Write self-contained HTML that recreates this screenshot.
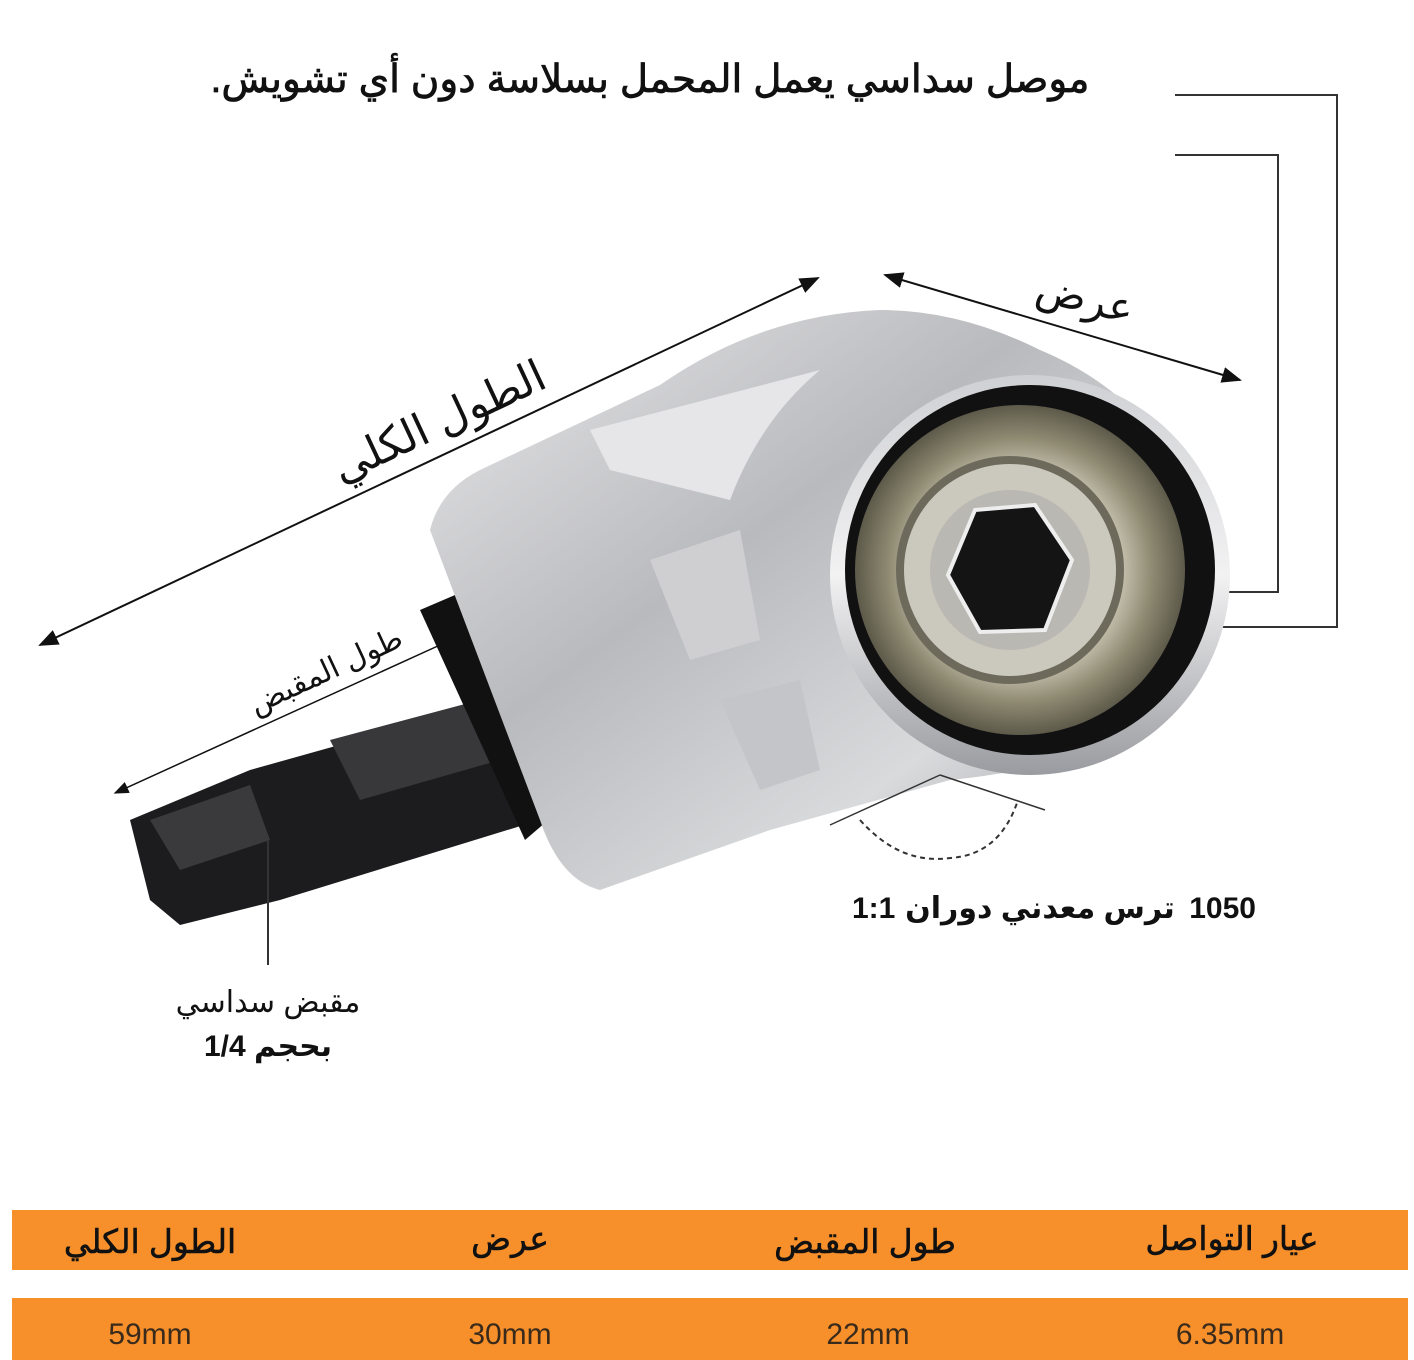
<!DOCTYPE html>
<html><head><meta charset="utf-8"><style>
body{margin:0;background:#fff;width:1414px;height:1360px;overflow:hidden}
svg{display:block}
text{font-family:"Liberation Sans","DejaVu Sans",sans-serif}
</style></head><body>
<svg width="1414" height="1360" viewBox="0 0 1414 1360" xmlns="http://www.w3.org/2000/svg">
<defs>
<linearGradient id="silver" x1="0" y1="0" x2="1" y2="1">
<stop offset="0" stop-color="#e8e8ea"/><stop offset="0.4" stop-color="#b9babd"/><stop offset="0.7" stop-color="#d9dadc"/><stop offset="1" stop-color="#8f9095"/></linearGradient>
<linearGradient id="silver2" x1="0" y1="0" x2="0" y2="1">
<stop offset="0" stop-color="#cfd0d3"/><stop offset="0.5" stop-color="#f2f2f3"/><stop offset="1" stop-color="#9a9ba0"/></linearGradient>
<radialGradient id="bear" cx="0.5" cy="0.5" r="0.5">
<stop offset="0.55" stop-color="#d7d3c2"/><stop offset="0.8" stop-color="#8f8a72"/><stop offset="1" stop-color="#5d5a4a"/></radialGradient>
<marker id="ar" viewBox="0 0 10 10" refX="9" refY="5" markerWidth="10" markerHeight="10" orient="auto-start-reverse"><path d="M0,1 L10,5 L0,9 z" fill="#111"/></marker>
</defs>
<text x="650" y="92" font-size="39" text-anchor="middle" fill="#111" direction="rtl" font-family="DejaVu Sans" stroke="#111" stroke-width="0.8">موصل سداسي يعمل المحمل بسلاسة دون أي تشويش.</text>
<polyline points="1175,95 1337,95 1337,627 1030,627" fill="none" stroke="#333" stroke-width="2"/>
<polyline points="1175,155 1278,155 1278,592 1135,592" fill="none" stroke="#333" stroke-width="2"/>
<polygon points="130,820 250,770 500,700 540,820 280,900 180,925 150,900" fill="#1c1c1e"/>
<polygon points="150,820 250,785 270,840 180,870" fill="#3a3a3d"/>
<polygon points="330,740 480,700 500,760 360,800" fill="#38383b"/>
<polygon points="420,610 455,595 560,810 525,840" fill="#111"/>
<path d="M430,530 Q440,490 480,470 L660,385 Q760,315 880,310 Q960,310 1040,350 Q1160,400 1200,520 L1210,640 Q1160,760 950,780 L770,830 L600,890 Q560,880 540,820 Z" fill="url(#silver)"/>
<path d="M590,430 L820,370 Q760,420 730,500 L610,470 Z" fill="#e6e6e8"/>
<path d="M650,560 L740,530 L760,640 L690,660 Z" fill="#cfcfd2"/>
<path d="M720,700 L800,680 L820,770 L760,790 Z" fill="#c4c5c8"/>
<circle cx="1030" cy="575" r="200" fill="url(#silver2)"/>
<circle cx="1030" cy="570" r="185" fill="#111"/>
<circle cx="1020" cy="570" r="165" fill="url(#bear)"/>
<circle cx="1010" cy="570" r="110" fill="#cbc8bd" stroke="#6d6a5c" stroke-width="8"/>
<circle cx="1010" cy="570" r="80" fill="#b9b8b3"/>
<polygon points="975,510 1035,505 1072,560 1045,630 980,632 948,575" fill="#141414" stroke="#eee" stroke-width="4"/>
<line x1="40" y1="645" x2="818" y2="278" stroke="#111" stroke-width="2" marker-start="url(#ar)" marker-end="url(#ar)"/>
<line x1="885" y1="275" x2="1240" y2="380" stroke="#111" stroke-width="2" marker-start="url(#ar)" marker-end="url(#ar)"/>
<line x1="115" y1="793" x2="440" y2="645" stroke="#111" stroke-width="1.5" marker-start="url(#ar)"/>
<line x1="268" y1="840" x2="268" y2="965" stroke="#333" stroke-width="2"/>
<line x1="830" y1="825" x2="940" y2="775" stroke="#333" stroke-width="1.5"/>
<line x1="940" y1="775" x2="1045" y2="810" stroke="#333" stroke-width="1.5"/>
<path d="M860,820 Q900,865 950,858 Q1000,855 1018,800" fill="none" stroke="#333" stroke-width="2" stroke-dasharray="5,4"/>
<text transform="translate(445,435) rotate(-25)" font-size="44" text-anchor="middle" direction="rtl" fill="#111" font-family="DejaVu Sans">الطول الكلي</text>
<text transform="translate(1082,312) rotate(14)" font-size="42" text-anchor="middle" direction="rtl" fill="#111" font-family="DejaVu Sans">عرض</text>
<text transform="translate(330,680) rotate(-25)" font-size="30" text-anchor="middle" direction="rtl" fill="#111" font-family="DejaVu Sans">طول المقبض</text>
<text x="852" y="918" font-size="30" fill="#111" font-weight="bold">1:1</text>
<text x="1040" y="918" font-size="30" text-anchor="middle" direction="rtl" fill="#111" font-family="DejaVu Sans" font-weight="bold">ترس معدني دوران</text>
<text x="1256" y="918" font-size="30" text-anchor="end" fill="#111" font-weight="bold">1050</text>
<text x="268" y="1012" font-size="30" text-anchor="middle" direction="rtl" fill="#111" font-family="DejaVu Sans">مقبض سداسي</text>
<text x="268" y="1056" font-size="30" text-anchor="middle" direction="rtl" fill="#111" font-family="DejaVu Sans" font-weight="bold">بحجم 1/4</text>
<rect x="12" y="1210" width="1396" height="60" fill="#f7902a"/>
<rect x="12" y="1298" width="1396" height="62" fill="#f7902a"/>
<g font-size="33" text-anchor="middle" fill="#111" font-family="DejaVu Sans" direction="rtl" stroke="#111" stroke-width="0.6">
<text x="150" y="1253">الطول الكلي</text>
<text x="510" y="1250">عرض</text>
<text x="865" y="1253">طول المقبض</text>
<text x="1232" y="1250">عيار التواصل</text>
</g>
<g font-size="30" text-anchor="middle" fill="#3a2a1c" font-family="Liberation Sans Narrow, Liberation Sans">
<text x="150" y="1344">59mm</text>
<text x="510" y="1344">30mm</text>
<text x="868" y="1344">22mm</text>
<text x="1230" y="1344">6.35mm</text>
</g>
</svg>
</body></html>
